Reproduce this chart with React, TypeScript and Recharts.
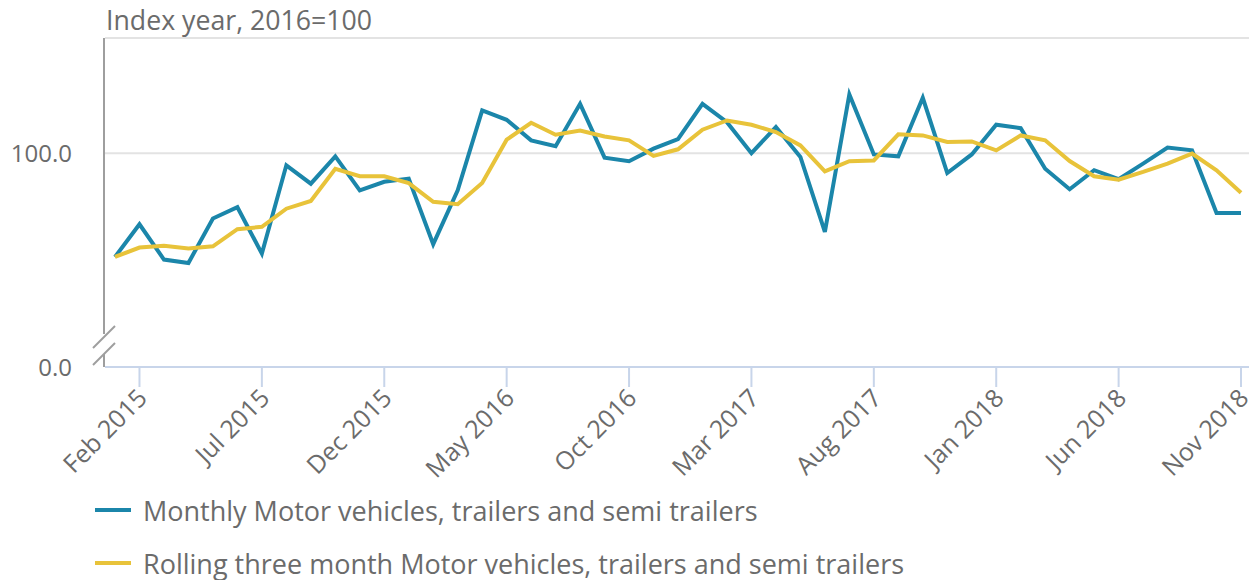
import React from "react";
import { LineChart, Line, XAxis, YAxis, CartesianGrid } from "recharts";

// Month labels, Jan 2015 .. Nov 2018
const months = [
  "Jan 2015", "Feb 2015", "Mar 2015", "Apr 2015", "May 2015", "Jun 2015",
  "Jul 2015", "Aug 2015", "Sep 2015", "Oct 2015", "Nov 2015", "Dec 2015",
  "Jan 2016", "Feb 2016", "Mar 2016", "Apr 2016", "May 2016", "Jun 2016",
  "Jul 2016", "Aug 2016", "Sep 2016", "Oct 2016", "Nov 2016", "Dec 2016",
  "Jan 2017", "Feb 2017", "Mar 2017", "Apr 2017", "May 2017", "Jun 2017",
  "Jul 2017", "Aug 2017", "Sep 2017", "Oct 2017", "Nov 2017", "Dec 2017",
  "Jan 2018", "Feb 2018", "Mar 2018", "Apr 2018", "May 2018", "Jun 2018",
  "Jul 2018", "Aug 2018", "Sep 2018", "Oct 2018", "Nov 2018",
];

const monthly = [
  51.5, 66.8, 50.3, 48.7, 69.5, 74.8, 53.1, 94.4, 85.8, 98.6,
  82.7, 86.7, 88.2, 57.5, 82.7, 120.1, 115.7, 106.1, 103.3, 123.2,
  98.0, 96.3, 102.2, 106.7, 123.2, 114.6, 100.1, 112.3, 98.3, 63.2,
  127.6, 99.5, 98.6, 126.0, 90.8, 99.5, 113.4, 111.8, 92.8, 83.2,
  92.1, 87.9, 95.2, 102.7, 101.4, 72.1, 72.1,
];

const rolling = [
  51.5, 55.9, 56.7, 55.5, 56.5, 64.5, 65.6, 74.1, 77.7, 92.8,
  89.3, 89.3, 86.1, 77.3, 76.2, 86.1, 106.4, 114.3, 108.7, 110.7,
  107.9, 106.1, 98.8, 101.9, 111.1, 115.4, 113.4, 110.0, 103.7, 91.6,
  96.3, 96.7, 108.9, 108.4, 105.3, 105.6, 101.4, 108.4, 106.1, 96.4,
  89.3, 87.7, 91.3, 95.2, 99.9, 92.1, 81.6,
];

const xTicks = [1, 6, 11, 16, 21, 26, 31, 36, 41, 46];
const yTicks = [0, 100];

const seriesNames = [
  "Monthly Motor vehicles, trailers and semi trailers",
  "Rolling three month Motor vehicles, trailers and semi trailers",
];

const BLUE = "#1b86aa";
const YELLOW = "#e8c33a";
const TEXT = "#6b6b6b";
const FONT = "'Open Sans', sans-serif";

const data = months.map((m, i) => ({
  idx: i,
  month: m,
  monthly: monthly[i],
  rolling: rolling[i],
}));

const MonthTick = (props: any) => {
  const { x, y, payload } = props;
  return (
    <g transform={`translate(${x},${y})`}>
      <text
        transform="rotate(-45)"
        x={-1}
        y={14}
        textAnchor="end"
        fill={TEXT}
        fontSize={25}
        fontFamily={FONT}
      >
        {months[payload.value]}
      </text>
    </g>
  );
};

export default function App() {
  return (
    <div style={{ position: "absolute", left: 0, top: 0, width: 1249, height: 580 }}>
      <LineChart
        width={1249}
        height={580}
        data={data}
        margin={{ top: 38, right: 0, left: 0, bottom: 183 }}
      >
        <CartesianGrid vertical={false} stroke="#e3e3e3" strokeWidth={2} />
        <XAxis
          dataKey="idx"
          type="number"
          domain={[0, 46]}
          ticks={xTicks}
          height={30}
          padding={{ left: 10, right: 8 }}
          stroke="#c8d5ea"
          strokeWidth={2}
          tickSize={20}
          tick={<MonthTick />}
          interval={0}
        />
        <YAxis
          width={105}
          domain={[0, 154]}
          ticks={yTicks}
          axisLine={false}
          tickLine={false}
          tickMargin={27}
          tickFormatter={(v: number) => v.toFixed(1)}
          tick={{ fill: TEXT, fontSize: 24, fontFamily: FONT }}
        />
        <Line
          dataKey="monthly"
          name={seriesNames[0]}
          stroke={BLUE}
          strokeWidth={4}
          dot={false}
          type="linear"
          isAnimationActive={false}
        />
        <Line
          dataKey="rolling"
          name={seriesNames[1]}
          stroke={YELLOW}
          strokeWidth={4}
          dot={false}
          type="linear"
          isAnimationActive={false}
        />
      </LineChart>

      {/* axis title and broken y axis */}
      <svg
        width={1249}
        height={580}
        style={{ position: "absolute", left: 0, top: 0, pointerEvents: "none" }}
      >
        <text x={106} y={30} fill={TEXT} fontSize={26.7} fontFamily={FONT}>
          Index year, 2016=100
        </text>
        <line x1={104} y1={38} x2={104} y2={334} stroke="#9e9e9e" strokeWidth={2} />
        <line x1={104} y1={354} x2={104} y2={367} stroke="#9e9e9e" strokeWidth={2} />
        <line x1={93} y1={348} x2={115} y2={326} stroke="#9e9e9e" strokeWidth={2} />
        <line x1={93} y1={365} x2={115} y2={343} stroke="#9e9e9e" strokeWidth={2} />
      </svg>

      {/* legend */}
      {[BLUE, YELLOW].map((c, i) => (
        <div
          key={i}
          style={{
            position: "absolute",
            left: 95,
            top: 492 + i * 53,
            height: 36,
            display: "flex",
            alignItems: "center",
            fontFamily: FONT,
            fontSize: 27,
            color: TEXT,
            whiteSpace: "nowrap",
          }}
        >
          <span style={{ display: "inline-block", width: 36, height: 4, background: c, marginRight: 12 }} />
          {seriesNames[i]}
        </div>
      ))}
    </div>
  );
}
